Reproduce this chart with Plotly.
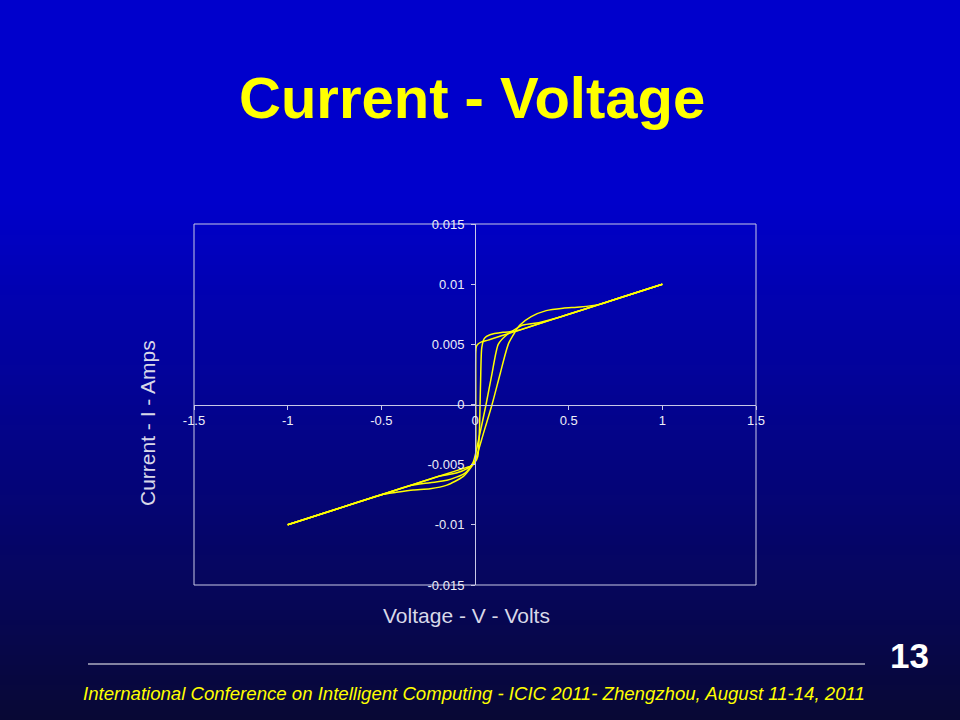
import plotly.graph_objects as go

# ---------------- data ----------------
# common switching path: down the ON line, near-vertical switch at ~0 V, down the OFF line
fall_v = [1.0, 0.75, 0.5, 0.3, 0.15, 0.07, 0.035, 0.015, 0.007, 0.0045, 0.004, 0.0035, 0.0, -0.02, -0.06, -0.15, -0.3, -0.5, -0.75, -1.0]
fall_i = [0.01, 0.00875, 0.0075, 0.0065, 0.00575, 0.00535, 0.0052, 0.0050, 0.0048, 0.0044, 0.0, -0.0044, -0.0048, -0.0051, -0.0053, -0.00575, -0.0065, -0.0075, -0.00875, -0.01]

# rising branches of three hysteresis loops
loop1_v = [-1.0, -0.75, -0.5, -0.3, -0.2, -0.1, -0.04, 0.0, 0.015, 0.024, 0.027, 0.030, 0.036, 0.05, 0.08, 0.15, 0.22, 0.35, 0.5, 0.75, 1.0]
loop1_i = [-0.01, -0.00875, -0.0075, -0.0065, -0.006, -0.0057, -0.0053, -0.0048, -0.0043, -0.002, 0.0, 0.002, 0.0047, 0.0055, 0.0058, 0.006, 0.0061, 0.00675, 0.0075, 0.00875, 0.01]

loop2_v = [-1.0, -0.75, -0.5, -0.35, -0.24, -0.15, -0.053, -0.01, 0.025, 0.059, 0.09, 0.124, 0.17, 0.256, 0.34, 0.45, 0.6, 0.8, 1.0]
loop2_i = [-0.01, -0.00875, -0.0075, -0.00675, -0.0065, -0.0063, -0.0057, -0.0048, -0.0025, 0.0, 0.0025, 0.005, 0.0058, 0.0066, 0.0068, 0.00725, 0.008, 0.009, 0.01]

loop3_v = [-1.0, -0.75, -0.5, -0.42, -0.33, -0.24, -0.15, -0.064, -0.02, 0.0, 0.045, 0.091, 0.135, 0.18, 0.24, 0.30, 0.38, 0.47, 0.56, 0.66, 0.8, 1.0]
loop3_i = [-0.01, -0.00875, -0.0075, -0.0073, -0.0071, -0.0070, -0.0067, -0.0060, -0.0052, -0.0047, -0.0024, 0.0, 0.0026, 0.0051, 0.0066, 0.0073, 0.0078, 0.0080, 0.0081, 0.0083, 0.009, 0.01]

x_tickvals = [-1.5, -1.0, -0.5, 0.0, 0.5, 1.0, 1.5]
x_ticktext = ["-1.5", "-1", "-0.5", "0", "0.5", "1", "1.5"]
y_tickvals = [-0.015, -0.01, -0.005, 0.0, 0.005, 0.01, 0.015]
y_ticktext = ["-0.015", "-0.01", "-0.005", "0", "0.005", "0.01", "0.015"]

title_text = "<b>Current - Voltage</b>"
x_title = "Voltage - V - Volts"
y_title = "Current - I - Amps"
footer_text = "<i>International Conference on Intelligent Computing - ICIC 2011- Zhengzhou, August 11-14, 2011</i>"
page_no = "<b>13</b>"

# ---------------- layout geometry ----------------
W, H = 960, 720
L, R, T, B = 194, 756, 224, 585  # plot area in pixels


def px2x(px):
    return (px - L) / (R - L)


def py2y(py):
    return (B - py) / (B - T)


FONT = "Liberation Sans, Arial, Helvetica, sans-serif"
LINE_COL = "#FFFF00"
AX_COL = "#C8C8E6"

fig = go.Figure()
for vv, ii in [(fall_v, fall_i), (loop1_v, loop1_i), (loop2_v, loop2_i), (loop3_v, loop3_i)]:
    fig.add_trace(go.Scatter(x=vv, y=ii, mode="lines",
                             line=dict(color=LINE_COL, width=1.5, shape="spline", smoothing=0.6),
                             showlegend=False, hoverinfo="skip"))

shapes = []
# vertical background gradient
top_c = (0, 0, 204)
bot_c = (8, 8, 52)
g0, g1 = 200, 720
nb = 104
band = (g1 - g0) / nb
shapes.append(dict(type="rect", xref="paper", yref="paper", layer="below",
                   x0=px2x(-2), x1=px2x(W + 2), y0=py2y(-2), y1=py2y(g0 + 0.5),
                   fillcolor="rgb(%d,%d,%d)" % top_c, line=dict(width=0)))
for k in range(nb):
    t = (k + 0.5) / nb
    c = tuple(round(top_c[j] + (bot_c[j] - top_c[j]) * t) for j in range(3))
    y0p = g0 + k * band
    shapes.append(dict(type="rect", xref="paper", yref="paper", layer="below",
                       x0=px2x(-2), x1=px2x(W + 2), y0=py2y(y0p), y1=py2y(y0p + band + 0.6),
                       fillcolor="rgb(%d,%d,%d)" % c, line=dict(width=0)))
# plot frame
shapes.append(dict(type="rect", xref="paper", yref="paper", x0=0, x1=1, y0=0, y1=1,
                   line=dict(color=AX_COL, width=1), layer="below"))
# footer rule
shapes.append(dict(type="line", xref="paper", yref="paper",
                   x0=px2x(88), x1=px2x(865), y0=py2y(664), y1=py2y(664),
                   line=dict(color="#FFFFFF", width=1)))

annotations = [
    dict(text=title_text, x=px2x(472), y=py2y(97), xref="paper", yref="paper",
         xanchor="center", yanchor="middle", showarrow=False,
         font=dict(family=FONT, size=58, color="#FFFF00")),
    dict(text=x_title, x=px2x(466), y=py2y(615), xref="paper", yref="paper",
         xanchor="center", yanchor="middle", showarrow=False,
         font=dict(family=FONT, size=21, color="#D8D8E8")),
    dict(text=y_title, x=px2x(147), y=py2y(423), xref="paper", yref="paper",
         xanchor="center", yanchor="middle", showarrow=False, textangle=-90,
         font=dict(family=FONT, size=21, color="#D8D8E8")),
    dict(text=page_no, x=px2x(909), y=py2y(655), xref="paper", yref="paper",
         xanchor="center", yanchor="middle", showarrow=False,
         font=dict(family=FONT, size=35, color="#FFFFFF")),
    dict(text=footer_text, x=px2x(474), y=py2y(693), xref="paper", yref="paper",
         xanchor="center", yanchor="middle", showarrow=False,
         font=dict(family=FONT, size=18.6, color="#FFFF00")),
]

axis_common = dict(showgrid=False, zeroline=False, showline=True, linecolor=AX_COL, linewidth=1,
                   ticks="outside", ticklen=4, tickcolor=AX_COL, tickwidth=1,
                   tickfont=dict(family=FONT, size=13, color="#EEEEF8"),
                   anchor="free", position=0.5, fixedrange=True)

fig.update_layout(
    width=W, height=H,
    margin=dict(l=L, r=W - R, t=T, b=H - B, pad=0),
    paper_bgcolor="#000066",
    plot_bgcolor="rgba(0,0,0,0)",
    xaxis=dict(range=[-1.5, 1.5], tickmode="array", tickvals=x_tickvals, ticktext=x_ticktext,
               **axis_common),
    yaxis=dict(range=[-0.015, 0.015], tickmode="array", tickvals=y_tickvals, ticktext=y_ticktext,
               ticklabelstandoff=4, **axis_common),
    shapes=shapes,
    annotations=annotations,
    showlegend=False,
)

fig.write_html("out.html", config={"displayModeBar": False},
               post_script="document.body.style.margin='0px';document.body.style.background='#000066';")
